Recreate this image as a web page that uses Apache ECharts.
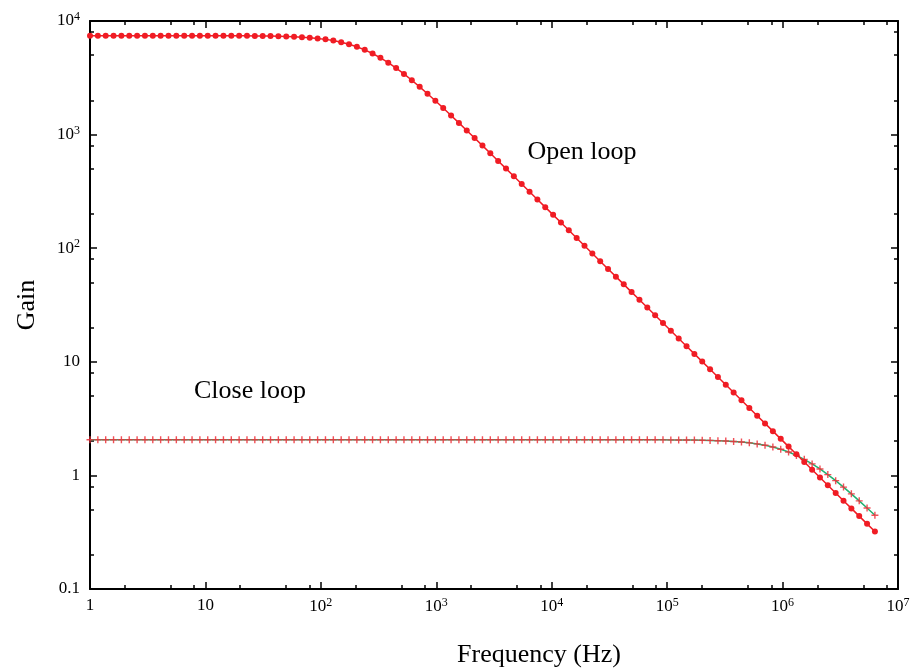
<!DOCTYPE html>
<html>
<head>
<meta charset="utf-8">
<script src="https://cdn.jsdelivr.net/npm/echarts@6/dist/echarts.min.js"></script>
<style>
html,body{margin:0;padding:0;background:#fff;}
#chart{width:920px;height:668px;}
</style>
</head>
<body>
<div id="chart"></div>
<script>
// Frequencies (Hz), log-spaced sample points
var freq = [
  1, 1.1695, 1.3677, 1.5996, 1.8707, 2.1878, 2.5586, 2.9923, 3.4995, 4.0926,
  4.7863, 5.5976, 6.5464, 7.656, 8.9536, 10.471, 12.246, 14.322, 16.749, 19.588,
  22.909, 26.792, 31.333, 36.644, 42.855, 50.119, 58.614, 68.549, 80.168, 93.756,
  109.65, 128.23, 149.97, 175.39, 205.12, 239.88, 280.54, 328.1, 383.71, 448.75,
  524.81, 613.76, 717.79, 839.46, 981.75, 1148.2, 1342.8, 1570.4, 1836.5, 2147.8,
  2511.9, 2937.6, 3435.6, 4017.9, 4699, 5495.4, 6426.9, 7516.2, 8790.2, 10280,
  12023, 14060, 16444, 19231, 22491, 26303, 30761, 35975, 42073, 49204,
  57544, 67298, 78705, 92045, 107650, 125890, 147230, 172190, 201370, 235500,
  275420, 322110, 376700, 440560, 515230, 602560, 704690, 824140, 963830, 1127200,
  1318300, 1541700, 1803000, 2108600, 2466000, 2884000, 3372900, 3944600, 4613200, 5395100,
  6309600
];
// Open loop gain
var openLoop = [
  7430, 7430, 7430, 7430, 7430, 7430, 7430, 7430, 7430, 7430,
  7430, 7428, 7428, 7427, 7426, 7425, 7422, 7420, 7416, 7411,
  7404, 7394, 7381, 7363, 7339, 7307, 7263, 7205, 7127, 7024,
  6891, 6721, 6508, 6246, 5932, 5573, 5174, 4742, 4297, 3851,
  3419, 3010, 2632, 2289, 1984, 1713, 1475, 1268, 1088, 933.3,
  799.8, 685.0, 586.5, 501.8, 429.5, 367.4, 314.3, 268.8, 229.8, 196.6,
  168.1, 143.8, 122.9, 105.1, 89.86, 76.84, 65.71, 56.18, 48.05, 41.08,
  35.13, 30.04, 25.68, 21.96, 18.78, 16.06, 13.73, 11.74, 10.04, 8.583,
  7.339, 6.276, 5.366, 4.589, 3.924, 3.355, 2.869, 2.453, 2.097, 1.793,
  1.533, 1.311, 1.121, 0.9585, 0.8196, 0.7008, 0.5992, 0.5124, 0.4381, 0.3746,
  0.3203
];
// Close loop gain
var closeLoop = [
  2.06, 2.06, 2.06, 2.06, 2.06, 2.06, 2.06, 2.06, 2.06, 2.06,
  2.06, 2.06, 2.06, 2.06, 2.06, 2.06, 2.06, 2.06, 2.06, 2.06,
  2.06, 2.06, 2.06, 2.06, 2.06, 2.06, 2.06, 2.06, 2.06, 2.06,
  2.06, 2.06, 2.06, 2.06, 2.06, 2.06, 2.06, 2.06, 2.06, 2.06,
  2.06, 2.06, 2.06, 2.06, 2.06, 2.06, 2.06, 2.06, 2.06, 2.06,
  2.06, 2.06, 2.06, 2.06, 2.06, 2.06, 2.06, 2.06, 2.06, 2.06,
  2.06, 2.06, 2.06, 2.06, 2.06, 2.06, 2.06, 2.06, 2.06, 2.06,
  2.058, 2.058, 2.057, 2.056, 2.054, 2.052, 2.049, 2.045, 2.039, 2.032,
  2.021, 2.008, 1.990, 1.966, 1.934, 1.893, 1.841, 1.776, 1.698, 1.606,
  1.500, 1.385, 1.263, 1.139, 1.016, 0.899, 0.789, 0.688, 0.597, 0.517,
  0.446
];
var xMajor = [1, 10, 100, 1e3, 1e4, 1e5, 1e6, 1e7];
var xMinor = [2, 5, 8, 20, 50, 80, 200, 500, 800, 2e3, 5e3, 8e3, 2e4, 5e4, 8e4, 2e5, 5e5, 8e5, 2e6, 5e6, 8e6];
var yMajor = [0.1, 1, 10, 100, 1e3, 1e4];
var yMinor = [0.2, 0.5, 0.8, 2, 5, 8, 20, 50, 80, 200, 500, 800, 2e3, 5e3, 8e3];
var xLabelText = ['1', '10', '10{s|2}', '10{s|3}', '10{s|4}', '10{s|5}', '10{s|6}', '10{s|7}'];
var yLabelText = ['0.1', '1', '10', '10{s|2}', '10{s|3}', '10{s|4}'];

var FONT = '"Liberation Serif", "Times New Roman", serif';

function pairs(xs, ys) {
  var out = [];
  for (var i = 0; i < xs.length; i++) out.push([xs[i], ys[i]]);
  return out;
}
function labelFor(list, texts) {
  return function (v) {
    for (var i = 0; i < list.length; i++) {
      if (Math.abs(Math.log10(v) - Math.log10(list[i])) < 1e-6) return texts[i];
    }
    return '';
  };
}
var rich = {
  s: { fontSize: 12, fontFamily: FONT, color: '#000', verticalAlign: 'top', padding: [0, 0, 8, 0] }
};

function xAx(pos, ticks, len, showLine, showLabel) {
  return {
    type: 'log', logBase: 10, min: 1, max: 1e7, position: pos,
    axisLine: { show: showLine, onZero: false, lineStyle: { color: '#000', width: 2 } },
    axisTick: { show: true, inside: true, length: len, customValues: ticks, lineStyle: { color: '#000', width: 1.5 } },
    axisLabel: showLabel ? {
      show: true, customValues: xMajor, formatter: labelFor(xMajor, xLabelText),
      fontFamily: FONT, fontSize: 17, color: '#000', margin: 8, rich: rich
    } : { show: false },
    splitLine: { show: false }, minorTick: { show: false }
  };
}
function yAx(pos, ticks, len, showLine, showLabel) {
  return {
    type: 'log', logBase: 10, min: 0.1, max: 1e4, position: pos,
    axisLine: { show: showLine, onZero: false, lineStyle: { color: '#000', width: 2 } },
    axisTick: { show: true, inside: true, length: len, customValues: ticks, lineStyle: { color: '#000', width: 1.5 } },
    axisLabel: showLabel ? {
      show: true, customValues: yMajor, formatter: labelFor(yMajor, yLabelText),
      fontFamily: FONT, fontSize: 17, color: '#000', margin: 10, rich: rich
    } : { show: false },
    splitLine: { show: false }, minorTick: { show: false },
    name: showLabel ? 'Gain' : '',
    nameLocation: 'middle', nameGap: 50,
    nameTextStyle: { fontFamily: FONT, fontSize: 26, color: '#000' }
  };
}

var chart = echarts.init(document.getElementById('chart'), null, { renderer: 'canvas' });
chart.setOption({
  animation: false,
  backgroundColor: '#fff',
  grid: { left: 90, top: 21, width: 808, height: 568, containLabel: false },
  xAxis: [
    xAx('bottom', xMajor, 7, true, true),
    xAx('bottom', xMinor, 4, false, false),
    xAx('top', xMajor, 7, true, false),
    xAx('top', xMinor, 4, false, false)
  ],
  yAxis: [
    yAx('left', yMajor, 7, true, true),
    yAx('left', yMinor, 4, false, false),
    yAx('right', yMajor, 7, true, false),
    yAx('right', yMinor, 4, false, false)
  ],
  graphic: [
    { type: 'text', x: 539, y: 655, style: { text: 'Frequency (Hz)', font: '26px ' + FONT, fill: '#000', align: 'center', verticalAlign: 'middle' } },
    { type: 'text', x: 582, y: 152, style: { text: 'Open loop', font: '26px ' + FONT, fill: '#000', align: 'center', verticalAlign: 'middle' } },
    { type: 'text', x: 250, y: 391, style: { text: 'Close loop', font: '26px ' + FONT, fill: '#000', align: 'center', verticalAlign: 'middle' } }
  ],
  series: [
    {
      name: 'Open loop', type: 'line', xAxisIndex: 0, yAxisIndex: 0,
      data: pairs(freq, openLoop),
      symbol: 'circle', symbolSize: 6, showAllSymbol: true,
      lineStyle: { color: '#f01c24', width: 1.5 },
      itemStyle: { color: '#f01c24' }, z: 3
    },
    {
      name: 'Close loop', type: 'line', xAxisIndex: 0, yAxisIndex: 0,
      data: pairs(freq, closeLoop),
      symbol: 'path://M4,0H6V4H10V6H6V10H4V6H0V4H4Z', symbolSize: 7, showAllSymbol: true,
      lineStyle: { color: '#22b070', width: 1.5 },
      itemStyle: { color: '#f0303a', opacity: 0.85 }, z: 2
    }
  ]
});
</script>
</body>
</html>
